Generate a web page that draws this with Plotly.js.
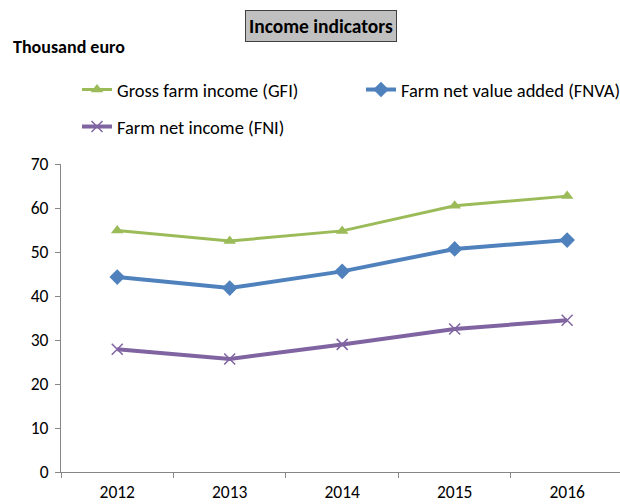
<!DOCTYPE html>
<html>
<head>
<meta charset="utf-8">
<script src="https://cdn.plot.ly/plotly-3.0.1.min.js"></script>
<style>html,body{margin:0;padding:0;background:#fff;}#chart{width:620px;height:504px;}</style>
</head>
<body>
<div id="chart"></div>
<script>
const years = ['2012', '2013', '2014', '2015', '2016'];
const gfi = [54.9, 52.5, 54.8, 60.5, 62.7];
const fnva = [44.3, 41.8, 45.6, 50.7, 52.7];
const fni = [27.9, 25.7, 29.0, 32.5, 34.5];
const seriesNames = ['Gross farm income (GFI)', 'Farm net value added (FNVA)', 'Farm net income (FNI)'];
const chartTitle = 'Income indicators';
const unitLabel = 'Thousand euro';

const FONT = "Carlito, Calibri, 'Open Sans', sans-serif";

const traces = [
  {
    x: years, y: gfi, name: seriesNames[0], type: 'scatter', mode: 'lines+markers',
    line: {color: '#9bbb59', width: 3},
    marker: {symbol: 'triangle-up', size: 11, color: '#9bbb59'},
    legend: 'legend'
  },
  {
    x: years, y: fnva, name: seriesNames[1], type: 'scatter', mode: 'lines+markers',
    line: {color: '#4f81bd', width: 4},
    marker: {symbol: 'diamond', size: 12, color: '#4f81bd'},
    legend: 'legend3'
  },
  {
    x: years, y: fni, name: seriesNames[2], type: 'scatter', mode: 'lines+markers',
    line: {color: '#8064a2', width: 4},
    marker: {symbol: 'x-thin', size: 11, color: '#8064a2', line: {color: '#8064a2', width: 1.5}},
    legend: 'legend2'
  }
];

const legendCommon = {
  orientation: 'h', xref: 'container', yref: 'container',
  xanchor: 'left', yanchor: 'middle',
  font: {family: FONT, size: 18.5, color: '#000'},
  bgcolor: 'rgba(0,0,0,0)'
};

const layout = {
  width: 620, height: 504,
  margin: {l: 61, r: 0, t: 164, b: 32},
  paper_bgcolor: '#ffffff', plot_bgcolor: '#ffffff',
  font: {family: FONT, size: 17.5, color: '#000000'},
  showlegend: true,
  xaxis: {
    type: 'category',
    range: [-0.5, 4.47],
    showline: true, linecolor: '#868686', linewidth: 1,
    ticks: 'outside', tickson: 'boundaries', ticklen: 5, tickcolor: '#868686',
    ticklabelstandoff: 4,
    showgrid: false, zeroline: false,
    tickfont: {family: FONT, size: 17.5, color: '#000'}
  },
  yaxis: {
    range: [0, 70], dtick: 10,
    showline: true, linecolor: '#868686', linewidth: 1,
    ticks: 'outside', ticklen: 5, tickcolor: '#868686',
    ticklabelstandoff: 3,
    showgrid: false, zeroline: false,
    tickfont: {family: FONT, size: 17.5, color: '#000'}
  },
  legend: Object.assign({}, legendCommon, {x: 77 / 620, y: 1 - 90 / 504}),
  legend3: Object.assign({}, legendCommon, {x: 361 / 620, y: 1 - 90 / 504}),
  legend2: Object.assign({}, legendCommon, {x: 77 / 620, y: 1 - 127 / 504}),
  annotations: [
    {
      text: '<b>' + chartTitle + '</b>', xref: 'paper', yref: 'paper',
      x: (321 - 61) / 559, xanchor: 'center', y: 1 + (164 - 26) / 308, yanchor: 'middle',
      showarrow: false, bgcolor: '#c0c0c0', bordercolor: '#404040', borderwidth: 1, borderpad: 3,
      font: {family: FONT, size: 19.5, color: '#000'}
    },
    {
      text: '<b>' + unitLabel + '</b>', xref: 'paper', yref: 'paper',
      x: -50 / 559, xanchor: 'left', y: 1 + (164 - 47) / 308, yanchor: 'middle',
      showarrow: false,
      font: {family: FONT, size: 18, color: '#000'}
    }
  ]
};

Plotly.newPlot('chart', traces, layout, {displayModeBar: false, staticPlot: true});
</script>
</body>
</html>
